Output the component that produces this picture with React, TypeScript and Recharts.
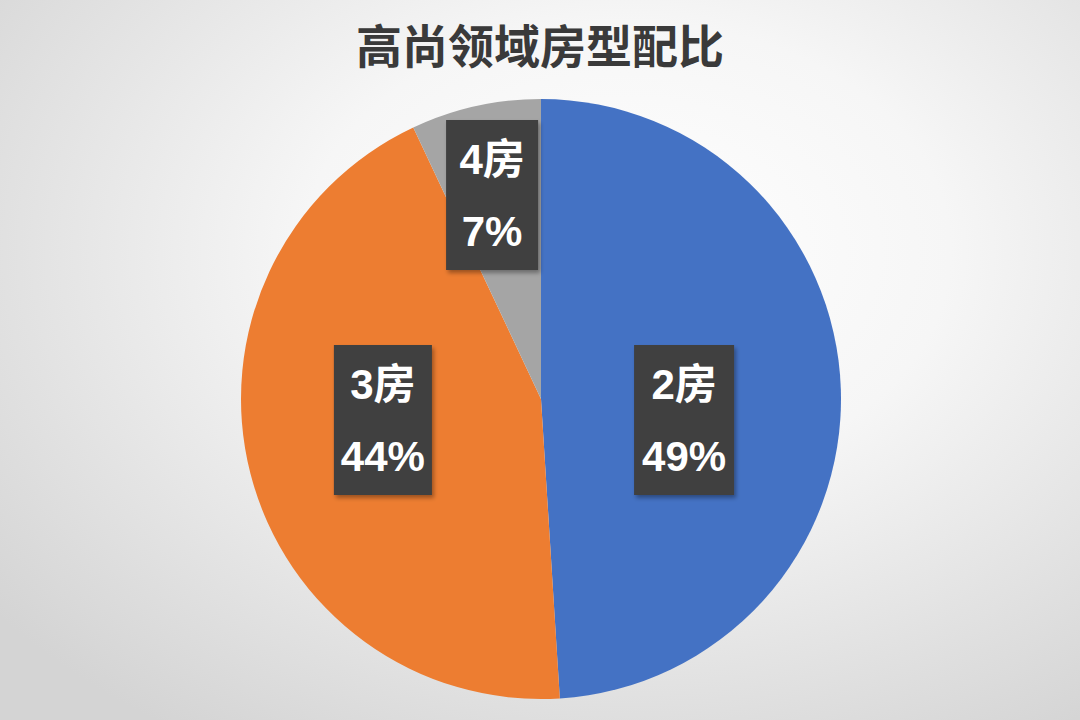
import React from "react";
import { PieChart, Pie, Cell } from "recharts";

const categories = ["2房", "3房", "4房"];
const shares = [49, 44, 7];
const colors = ["#4472C4", "#ED7D31", "#A5A5A5"];
const title = "高尚领域房型配比";

// label box centre offsets, as fractions of the pie radius
const labelOffsets = [
  { fx: 0.477, fy: 0.07, w: 100 },
  { fx: -0.527, fy: 0.07, w: 98 },
  { fx: -0.163, fy: -0.68, w: 92 },
];

const data = categories.map((name, i) => ({ name, value: shares[i] }));

const labelFont = "'Liberation Sans', 'Noto Sans CJK SC', sans-serif";

const renderLabel = (props: any) => {
  const { cx, cy, outerRadius, index, name, value } = props;
  const o = labelOffsets[index];
  const x = cx + o.fx * outerRadius;
  const y = cy + o.fy * outerRadius;
  const h = 150;
  return (
    <g>
      <rect
        x={x - o.w / 2}
        y={y - h / 2}
        width={o.w}
        height={h}
        fill="#404040"
        filter="url(#boxShadow)"
      />
      <text
        x={x}
        y={y - 36}
        textAnchor="middle"
        dominantBaseline="central"
        fill="#ffffff"
        fontSize={42}
        fontWeight={600}
        fontFamily={labelFont}
      >
        {name}
      </text>
      <text
        x={x}
        y={y + 36}
        textAnchor="middle"
        dominantBaseline="central"
        fill="#ffffff"
        fontSize={42}
        fontWeight={600}
        fontFamily={labelFont}
      >
        {value}%
      </text>
    </g>
  );
};

export default function App() {
  return (
    <div
      style={{
        position: "relative",
        width: 1080,
        height: 720,
        overflow: "hidden",
        background:
          "radial-gradient(ellipse 75% 80% at 58% 35%, #ffffff 0%, #f6f6f6 40%, #e2e2e2 75%, #d4d4d4 100%)",
      }}
    >
      <style>{`body{margin:0}`}</style>
      <div
        style={{
          position: "absolute",
          left: 0,
          top: 15,
          width: 1080,
          textAlign: "center",
          fontSize: 46,
          lineHeight: "56px",
          color: "#3a3a3a",
          fontWeight: 700,
          fontFamily: "'Noto Sans CJK SC', sans-serif",
        }}
      >
        {title}
      </div>
      <div style={{ position: "absolute", left: 0, top: 0 }}>
        <PieChart width={1080} height={720} margin={{ top: 0, right: 0, bottom: 0, left: 0 }}>
          <defs>
            <filter id="boxShadow" x="-20%" y="-20%" width="140%" height="140%">
              <feDropShadow dx="2" dy="3" stdDeviation="2" floodColor="#000" floodOpacity="0.35" />
            </filter>
          </defs>
          <Pie
            data={data}
            dataKey="value"
            nameKey="name"
            cx={541}
            cy={399}
            outerRadius={300}
            startAngle={90}
            endAngle={-270}
            stroke="none"
            labelLine={false}
            label={renderLabel}
            isAnimationActive={false}
          >
            {data.map((d, i) => (
              <Cell key={d.name} fill={colors[i]} />
            ))}
          </Pie>
        </PieChart>
      </div>
    </div>
  );
}
